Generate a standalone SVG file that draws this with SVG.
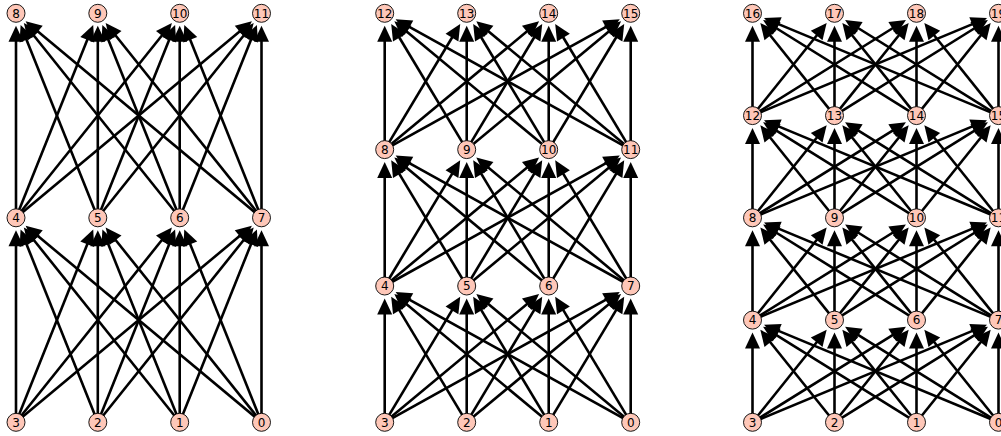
<svg xmlns="http://www.w3.org/2000/svg" width="1001" height="436" viewBox="0 0 1001 436">
<style>
.e{stroke:#000;stroke-width:2.6;fill:none;marker-end:url(#ah)}
.n circle{fill:#fec7b8;stroke:#000;stroke-width:0.9}
.n text{font-family:"DejaVu Sans",sans-serif;font-size:12px;text-anchor:middle;fill:#000}
</style>
<defs>
<marker id="ah" markerUnits="userSpaceOnUse" markerWidth="30" markerHeight="30" refX="0" refY="0" orient="auto" overflow="visible" viewBox="-15 -15 30 30">
<path d="M-5.5,-7.5 L10.5,0 L-5.5,7.5 z" fill="#000"/>
</marker>
</defs>
<rect width="1001" height="436" fill="#fff"/>
<g id="connectors">
<line class="e" x1="16" y1="422.3" x2="16" y2="240.8"/>
<line class="e" x1="16" y1="422.3" x2="89.3" y2="239.2"/>
<line class="e" x1="16" y1="422.3" x2="165.3" y2="235.8"/>
<line class="e" x1="16" y1="422.3" x2="243.8" y2="232.5"/>
<line class="e" x1="97.8" y1="422.3" x2="24.5" y2="239.2"/>
<line class="e" x1="97.8" y1="422.3" x2="97.8" y2="240.8"/>
<line class="e" x1="97.8" y1="422.3" x2="171.2" y2="239.2"/>
<line class="e" x1="97.8" y1="422.3" x2="247.1" y2="235.8"/>
<line class="e" x1="179.7" y1="422.3" x2="30.4" y2="235.8"/>
<line class="e" x1="179.7" y1="422.3" x2="106.3" y2="239.2"/>
<line class="e" x1="179.7" y1="422.3" x2="179.7" y2="240.8"/>
<line class="e" x1="179.7" y1="422.3" x2="253" y2="239.2"/>
<line class="e" x1="261.5" y1="422.3" x2="33.7" y2="232.5"/>
<line class="e" x1="261.5" y1="422.3" x2="112.2" y2="235.8"/>
<line class="e" x1="261.5" y1="422.3" x2="188.2" y2="239.2"/>
<line class="e" x1="261.5" y1="422.3" x2="261.5" y2="240.8"/>
<line class="e" x1="16" y1="217.8" x2="16" y2="36.3"/>
<line class="e" x1="16" y1="217.8" x2="89.3" y2="34.7"/>
<line class="e" x1="16" y1="217.8" x2="165.3" y2="31.3"/>
<line class="e" x1="16" y1="217.8" x2="243.8" y2="28"/>
<line class="e" x1="97.8" y1="217.8" x2="24.5" y2="34.7"/>
<line class="e" x1="97.8" y1="217.8" x2="97.8" y2="36.3"/>
<line class="e" x1="97.8" y1="217.8" x2="171.2" y2="34.7"/>
<line class="e" x1="97.8" y1="217.8" x2="247.1" y2="31.3"/>
<line class="e" x1="179.7" y1="217.8" x2="30.4" y2="31.3"/>
<line class="e" x1="179.7" y1="217.8" x2="106.3" y2="34.7"/>
<line class="e" x1="179.7" y1="217.8" x2="179.7" y2="36.3"/>
<line class="e" x1="179.7" y1="217.8" x2="253" y2="34.7"/>
<line class="e" x1="261.5" y1="217.8" x2="33.7" y2="28"/>
<line class="e" x1="261.5" y1="217.8" x2="112.2" y2="31.3"/>
<line class="e" x1="261.5" y1="217.8" x2="188.2" y2="34.7"/>
<line class="e" x1="261.5" y1="217.8" x2="261.5" y2="36.3"/>
<line class="e" x1="384.7" y1="422.3" x2="384.7" y2="309"/>
<line class="e" x1="384.7" y1="422.3" x2="454.8" y2="305.7"/>
<line class="e" x1="384.7" y1="422.3" x2="531" y2="300.7"/>
<line class="e" x1="384.7" y1="422.3" x2="610.6" y2="297.1"/>
<line class="e" x1="466.7" y1="422.3" x2="396.6" y2="305.7"/>
<line class="e" x1="466.7" y1="422.3" x2="466.7" y2="309"/>
<line class="e" x1="466.7" y1="422.3" x2="536.8" y2="305.7"/>
<line class="e" x1="466.7" y1="422.3" x2="613" y2="300.7"/>
<line class="e" x1="548.7" y1="422.3" x2="402.4" y2="300.7"/>
<line class="e" x1="548.7" y1="422.3" x2="478.6" y2="305.7"/>
<line class="e" x1="548.7" y1="422.3" x2="548.7" y2="309"/>
<line class="e" x1="548.7" y1="422.3" x2="618.8" y2="305.7"/>
<line class="e" x1="630.7" y1="422.3" x2="404.8" y2="297.1"/>
<line class="e" x1="630.7" y1="422.3" x2="484.4" y2="300.7"/>
<line class="e" x1="630.7" y1="422.3" x2="560.6" y2="305.7"/>
<line class="e" x1="630.7" y1="422.3" x2="630.7" y2="309"/>
<line class="e" x1="384.7" y1="286" x2="384.7" y2="172.6"/>
<line class="e" x1="384.7" y1="286" x2="454.8" y2="169.3"/>
<line class="e" x1="384.7" y1="286" x2="531" y2="164.3"/>
<line class="e" x1="384.7" y1="286" x2="610.6" y2="160.7"/>
<line class="e" x1="466.7" y1="286" x2="396.6" y2="169.3"/>
<line class="e" x1="466.7" y1="286" x2="466.7" y2="172.6"/>
<line class="e" x1="466.7" y1="286" x2="536.8" y2="169.3"/>
<line class="e" x1="466.7" y1="286" x2="613" y2="164.3"/>
<line class="e" x1="548.7" y1="286" x2="402.4" y2="164.3"/>
<line class="e" x1="548.7" y1="286" x2="478.6" y2="169.3"/>
<line class="e" x1="548.7" y1="286" x2="548.7" y2="172.6"/>
<line class="e" x1="548.7" y1="286" x2="618.8" y2="169.3"/>
<line class="e" x1="630.7" y1="286" x2="404.8" y2="160.7"/>
<line class="e" x1="630.7" y1="286" x2="484.4" y2="164.3"/>
<line class="e" x1="630.7" y1="286" x2="560.6" y2="169.3"/>
<line class="e" x1="630.7" y1="286" x2="630.7" y2="172.6"/>
<line class="e" x1="384.7" y1="149.6" x2="384.7" y2="36.3"/>
<line class="e" x1="384.7" y1="149.6" x2="454.8" y2="33"/>
<line class="e" x1="384.7" y1="149.6" x2="531" y2="28"/>
<line class="e" x1="384.7" y1="149.6" x2="610.6" y2="24.4"/>
<line class="e" x1="466.7" y1="149.6" x2="396.6" y2="33"/>
<line class="e" x1="466.7" y1="149.6" x2="466.7" y2="36.3"/>
<line class="e" x1="466.7" y1="149.6" x2="536.8" y2="33"/>
<line class="e" x1="466.7" y1="149.6" x2="613" y2="28"/>
<line class="e" x1="548.7" y1="149.6" x2="402.4" y2="28"/>
<line class="e" x1="548.7" y1="149.6" x2="478.6" y2="33"/>
<line class="e" x1="548.7" y1="149.6" x2="548.7" y2="36.3"/>
<line class="e" x1="548.7" y1="149.6" x2="618.8" y2="33"/>
<line class="e" x1="630.7" y1="149.6" x2="404.8" y2="24.4"/>
<line class="e" x1="630.7" y1="149.6" x2="484.4" y2="28"/>
<line class="e" x1="630.7" y1="149.6" x2="560.6" y2="33"/>
<line class="e" x1="630.7" y1="149.6" x2="630.7" y2="36.3"/>
<line class="e" x1="752.5" y1="422.3" x2="752.5" y2="343.1"/>
<line class="e" x1="752.5" y1="422.3" x2="820.1" y2="338"/>
<line class="e" x1="752.5" y1="422.3" x2="897" y2="332.3"/>
<line class="e" x1="752.5" y1="422.3" x2="977.3" y2="328.9"/>
<line class="e" x1="834.5" y1="422.3" x2="766.9" y2="338"/>
<line class="e" x1="834.5" y1="422.3" x2="834.5" y2="343.1"/>
<line class="e" x1="834.5" y1="422.3" x2="902.1" y2="338"/>
<line class="e" x1="834.5" y1="422.3" x2="979" y2="332.3"/>
<line class="e" x1="916.5" y1="422.3" x2="772" y2="332.3"/>
<line class="e" x1="916.5" y1="422.3" x2="848.9" y2="338"/>
<line class="e" x1="916.5" y1="422.3" x2="916.5" y2="343.1"/>
<line class="e" x1="916.5" y1="422.3" x2="984.1" y2="338"/>
<line class="e" x1="998.5" y1="422.3" x2="773.7" y2="328.9"/>
<line class="e" x1="998.5" y1="422.3" x2="854" y2="332.3"/>
<line class="e" x1="998.5" y1="422.3" x2="930.9" y2="338"/>
<line class="e" x1="998.5" y1="422.3" x2="998.5" y2="343.1"/>
<line class="e" x1="752.5" y1="320.1" x2="752.5" y2="240.8"/>
<line class="e" x1="752.5" y1="320.1" x2="820.1" y2="235.7"/>
<line class="e" x1="752.5" y1="320.1" x2="897" y2="230"/>
<line class="e" x1="752.5" y1="320.1" x2="977.3" y2="226.6"/>
<line class="e" x1="834.5" y1="320.1" x2="766.9" y2="235.7"/>
<line class="e" x1="834.5" y1="320.1" x2="834.5" y2="240.8"/>
<line class="e" x1="834.5" y1="320.1" x2="902.1" y2="235.7"/>
<line class="e" x1="834.5" y1="320.1" x2="979" y2="230"/>
<line class="e" x1="916.5" y1="320.1" x2="772" y2="230"/>
<line class="e" x1="916.5" y1="320.1" x2="848.9" y2="235.7"/>
<line class="e" x1="916.5" y1="320.1" x2="916.5" y2="240.8"/>
<line class="e" x1="916.5" y1="320.1" x2="984.1" y2="235.7"/>
<line class="e" x1="998.5" y1="320.1" x2="773.7" y2="226.6"/>
<line class="e" x1="998.5" y1="320.1" x2="854" y2="230"/>
<line class="e" x1="998.5" y1="320.1" x2="930.9" y2="235.7"/>
<line class="e" x1="998.5" y1="320.1" x2="998.5" y2="240.8"/>
<line class="e" x1="752.5" y1="217.8" x2="752.5" y2="138.6"/>
<line class="e" x1="752.5" y1="217.8" x2="820.1" y2="133.5"/>
<line class="e" x1="752.5" y1="217.8" x2="897" y2="127.8"/>
<line class="e" x1="752.5" y1="217.8" x2="977.3" y2="124.4"/>
<line class="e" x1="834.5" y1="217.8" x2="766.9" y2="133.5"/>
<line class="e" x1="834.5" y1="217.8" x2="834.5" y2="138.6"/>
<line class="e" x1="834.5" y1="217.8" x2="902.1" y2="133.5"/>
<line class="e" x1="834.5" y1="217.8" x2="979" y2="127.8"/>
<line class="e" x1="916.5" y1="217.8" x2="772" y2="127.8"/>
<line class="e" x1="916.5" y1="217.8" x2="848.9" y2="133.5"/>
<line class="e" x1="916.5" y1="217.8" x2="916.5" y2="138.6"/>
<line class="e" x1="916.5" y1="217.8" x2="984.1" y2="133.5"/>
<line class="e" x1="998.5" y1="217.8" x2="773.7" y2="124.4"/>
<line class="e" x1="998.5" y1="217.8" x2="854" y2="127.8"/>
<line class="e" x1="998.5" y1="217.8" x2="930.9" y2="133.5"/>
<line class="e" x1="998.5" y1="217.8" x2="998.5" y2="138.6"/>
<line class="e" x1="752.5" y1="115.6" x2="752.5" y2="36.3"/>
<line class="e" x1="752.5" y1="115.6" x2="820.1" y2="31.2"/>
<line class="e" x1="752.5" y1="115.6" x2="897" y2="25.5"/>
<line class="e" x1="752.5" y1="115.6" x2="977.3" y2="22.1"/>
<line class="e" x1="834.5" y1="115.6" x2="766.9" y2="31.2"/>
<line class="e" x1="834.5" y1="115.6" x2="834.5" y2="36.3"/>
<line class="e" x1="834.5" y1="115.6" x2="902.1" y2="31.2"/>
<line class="e" x1="834.5" y1="115.6" x2="979" y2="25.5"/>
<line class="e" x1="916.5" y1="115.6" x2="772" y2="25.5"/>
<line class="e" x1="916.5" y1="115.6" x2="848.9" y2="31.2"/>
<line class="e" x1="916.5" y1="115.6" x2="916.5" y2="36.3"/>
<line class="e" x1="916.5" y1="115.6" x2="984.1" y2="31.2"/>
<line class="e" x1="998.5" y1="115.6" x2="773.7" y2="22.1"/>
<line class="e" x1="998.5" y1="115.6" x2="854" y2="25.5"/>
<line class="e" x1="998.5" y1="115.6" x2="930.9" y2="31.2"/>
<line class="e" x1="998.5" y1="115.6" x2="998.5" y2="36.3"/>
</g>
<g id="g1-n3" class="n"><circle cx="16" cy="422.3" r="9"/><text x="16" y="426.6">3</text></g>
<g id="g1-n2" class="n"><circle cx="97.8" cy="422.3" r="9"/><text x="97.8" y="426.6">2</text></g>
<g id="g1-n1" class="n"><circle cx="179.7" cy="422.3" r="9"/><text x="179.7" y="426.6">1</text></g>
<g id="g1-n0" class="n"><circle cx="261.5" cy="422.3" r="9"/><text x="261.5" y="426.6">0</text></g>
<g id="g1-n4" class="n"><circle cx="16" cy="217.8" r="9"/><text x="16" y="222.1">4</text></g>
<g id="g1-n5" class="n"><circle cx="97.8" cy="217.8" r="9"/><text x="97.8" y="222.1">5</text></g>
<g id="g1-n6" class="n"><circle cx="179.7" cy="217.8" r="9"/><text x="179.7" y="222.1">6</text></g>
<g id="g1-n7" class="n"><circle cx="261.5" cy="217.8" r="9"/><text x="261.5" y="222.1">7</text></g>
<g id="g1-n8" class="n"><circle cx="16" cy="13.3" r="9"/><text x="16" y="17.6">8</text></g>
<g id="g1-n9" class="n"><circle cx="97.8" cy="13.3" r="9"/><text x="97.8" y="17.6">9</text></g>
<g id="g1-n10" class="n"><circle cx="179.7" cy="13.3" r="9"/><text x="179.7" y="17.6">10</text></g>
<g id="g1-n11" class="n"><circle cx="261.5" cy="13.3" r="9"/><text x="261.5" y="17.6">11</text></g>
<g id="g2-n3" class="n"><circle cx="384.7" cy="422.3" r="9"/><text x="384.7" y="426.6">3</text></g>
<g id="g2-n2" class="n"><circle cx="466.7" cy="422.3" r="9"/><text x="466.7" y="426.6">2</text></g>
<g id="g2-n1" class="n"><circle cx="548.7" cy="422.3" r="9"/><text x="548.7" y="426.6">1</text></g>
<g id="g2-n0" class="n"><circle cx="630.7" cy="422.3" r="9"/><text x="630.7" y="426.6">0</text></g>
<g id="g2-n4" class="n"><circle cx="384.7" cy="286" r="9"/><text x="384.7" y="290.3">4</text></g>
<g id="g2-n5" class="n"><circle cx="466.7" cy="286" r="9"/><text x="466.7" y="290.3">5</text></g>
<g id="g2-n6" class="n"><circle cx="548.7" cy="286" r="9"/><text x="548.7" y="290.3">6</text></g>
<g id="g2-n7" class="n"><circle cx="630.7" cy="286" r="9"/><text x="630.7" y="290.3">7</text></g>
<g id="g2-n8" class="n"><circle cx="384.7" cy="149.6" r="9"/><text x="384.7" y="153.9">8</text></g>
<g id="g2-n9" class="n"><circle cx="466.7" cy="149.6" r="9"/><text x="466.7" y="153.9">9</text></g>
<g id="g2-n10" class="n"><circle cx="548.7" cy="149.6" r="9"/><text x="548.7" y="153.9">10</text></g>
<g id="g2-n11" class="n"><circle cx="630.7" cy="149.6" r="9"/><text x="630.7" y="153.9">11</text></g>
<g id="g2-n12" class="n"><circle cx="384.7" cy="13.3" r="9"/><text x="384.7" y="17.6">12</text></g>
<g id="g2-n13" class="n"><circle cx="466.7" cy="13.3" r="9"/><text x="466.7" y="17.6">13</text></g>
<g id="g2-n14" class="n"><circle cx="548.7" cy="13.3" r="9"/><text x="548.7" y="17.6">14</text></g>
<g id="g2-n15" class="n"><circle cx="630.7" cy="13.3" r="9"/><text x="630.7" y="17.6">15</text></g>
<g id="g3-n3" class="n"><circle cx="752.5" cy="422.3" r="9"/><text x="752.5" y="426.6">3</text></g>
<g id="g3-n2" class="n"><circle cx="834.5" cy="422.3" r="9"/><text x="834.5" y="426.6">2</text></g>
<g id="g3-n1" class="n"><circle cx="916.5" cy="422.3" r="9"/><text x="916.5" y="426.6">1</text></g>
<g id="g3-n0" class="n"><circle cx="998.5" cy="422.3" r="9"/><text x="998.5" y="426.6">0</text></g>
<g id="g3-n4" class="n"><circle cx="752.5" cy="320.1" r="9"/><text x="752.5" y="324.4">4</text></g>
<g id="g3-n5" class="n"><circle cx="834.5" cy="320.1" r="9"/><text x="834.5" y="324.4">5</text></g>
<g id="g3-n6" class="n"><circle cx="916.5" cy="320.1" r="9"/><text x="916.5" y="324.4">6</text></g>
<g id="g3-n7" class="n"><circle cx="998.5" cy="320.1" r="9"/><text x="998.5" y="324.4">7</text></g>
<g id="g3-n8" class="n"><circle cx="752.5" cy="217.8" r="9"/><text x="752.5" y="222.1">8</text></g>
<g id="g3-n9" class="n"><circle cx="834.5" cy="217.8" r="9"/><text x="834.5" y="222.1">9</text></g>
<g id="g3-n10" class="n"><circle cx="916.5" cy="217.8" r="9"/><text x="916.5" y="222.1">10</text></g>
<g id="g3-n11" class="n"><circle cx="998.5" cy="217.8" r="9"/><text x="998.5" y="222.1">11</text></g>
<g id="g3-n12" class="n"><circle cx="752.5" cy="115.6" r="9"/><text x="752.5" y="119.9">12</text></g>
<g id="g3-n13" class="n"><circle cx="834.5" cy="115.6" r="9"/><text x="834.5" y="119.9">13</text></g>
<g id="g3-n14" class="n"><circle cx="916.5" cy="115.6" r="9"/><text x="916.5" y="119.9">14</text></g>
<g id="g3-n15" class="n"><circle cx="998.5" cy="115.6" r="9"/><text x="998.5" y="119.9">15</text></g>
<g id="g3-n16" class="n"><circle cx="752.5" cy="13.3" r="9"/><text x="752.5" y="17.6">16</text></g>
<g id="g3-n17" class="n"><circle cx="834.5" cy="13.3" r="9"/><text x="834.5" y="17.6">17</text></g>
<g id="g3-n18" class="n"><circle cx="916.5" cy="13.3" r="9"/><text x="916.5" y="17.6">18</text></g>
<g id="g3-n19" class="n"><circle cx="998.5" cy="13.3" r="9"/><text x="998.5" y="17.6">19</text></g>
</svg>
